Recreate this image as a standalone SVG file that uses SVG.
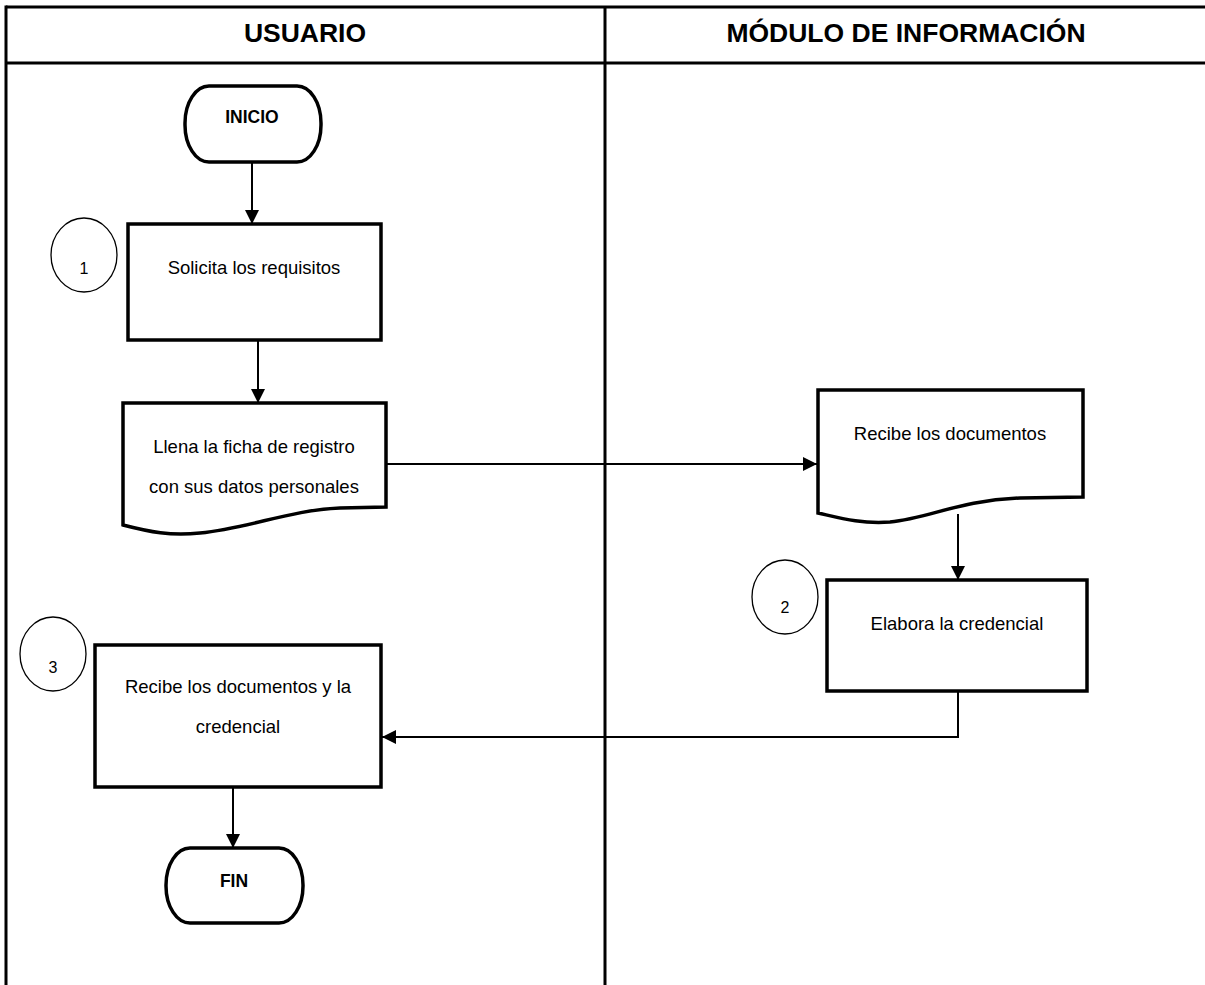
<svg xmlns="http://www.w3.org/2000/svg" width="1205" height="985" viewBox="0 0 1205 985">
<style>
.frame{stroke:#000;stroke-width:3;fill:none}
.box{fill:#fff;stroke:#000;stroke-width:3.5}
.term{fill:#fff;stroke:#000;stroke-width:3.5}
.circ{fill:#fff;stroke:#000;stroke-width:1.3}
.conn{fill:none;stroke:#000;stroke-width:2}
.hdr{font-family:"Liberation Sans",Arial,sans-serif;font-weight:bold;font-size:26.5px;text-anchor:middle;fill:#000}
.tb{font-family:"Liberation Sans",Arial,sans-serif;font-weight:bold;font-size:17.5px;text-anchor:middle;fill:#000}
.t{font-family:"Liberation Sans",Arial,sans-serif;font-size:18.5px;text-anchor:middle;fill:#000}
.n{font-family:"Liberation Sans",Arial,sans-serif;font-size:16px;text-anchor:middle;fill:#000}
</style>
<defs>
<marker id="arr" markerUnits="userSpaceOnUse" markerWidth="14" markerHeight="14" refX="14" refY="7" orient="auto">
<path d="M0,0 L14,7 L0,14 z" fill="#000"/>
</marker>
</defs>
<rect width="1205" height="985" fill="#fff"/>
<g id="lanes">
<line class="frame" x1="6" y1="7" x2="1205" y2="7"/>
<line class="frame" x1="6" y1="63" x2="1205" y2="63"/>
<line class="frame" x1="6" y1="5.5" x2="6" y2="985"/>
<line class="frame" x1="605" y1="7" x2="605" y2="985"/>
<text class="hdr" x="305" y="42">USUARIO</text>
<text class="hdr" x="906" y="42">MÓDULO DE INFORMACIÓN</text>
</g>
<g id="connectors">
<line class="conn" x1="252" y1="162" x2="252" y2="224" marker-end="url(#arr)"/>
<line class="conn" x1="258" y1="340" x2="258" y2="403" marker-end="url(#arr)"/>
<line class="conn" x1="386" y1="464" x2="817" y2="464" marker-end="url(#arr)"/>
<line class="conn" x1="958" y1="514" x2="958" y2="580" marker-end="url(#arr)"/>
<polyline class="conn" points="958,691 958,737 382,737" marker-end="url(#arr)"/>
<line class="conn" x1="233" y1="787" x2="233" y2="848" marker-end="url(#arr)"/>
</g>
<g id="inicio">
<rect class="term" x="185" y="86" width="136" height="76" rx="24" ry="37"/>
<text class="tb" x="252" y="123">INICIO</text>
</g>
<g id="n1">
<ellipse class="circ" cx="84" cy="255" rx="33" ry="37"/>
<text class="n" x="84" y="274">1</text>
</g>
<g id="solicita">
<rect class="box" x="128" y="224" width="253" height="116"/>
<text class="t" x="254" y="274">Solicita los requisitos</text>
</g>
<g id="llena">
<path class="box" d="M123,403 H386 V507 L340,508 C290,510 250,528 200,533 C170,536 150,532 123,525 Z"/>
<text class="t" x="254" y="453">Llena la ficha de registro</text>
<text class="t" x="254" y="493">con sus datos personales</text>
</g>
<g id="recibe">
<path class="box" d="M818,390 H1083 V497 L1020,498 C960,500 930,518 890,522 C860,524 840,518 818,513 Z"/>
<text class="t" x="950" y="440">Recibe los documentos</text>
</g>
<g id="n2">
<ellipse class="circ" cx="785" cy="597" rx="33" ry="37"/>
<text class="n" x="785" y="613">2</text>
</g>
<g id="elabora">
<rect class="box" x="827" y="580" width="260" height="111"/>
<text class="t" x="957" y="630">Elabora la credencial</text>
</g>
<g id="n3">
<ellipse class="circ" cx="53" cy="654" rx="33" ry="37"/>
<text class="n" x="53" y="673">3</text>
</g>
<g id="recibe-cred">
<rect class="box" x="95" y="645" width="286" height="142"/>
<text class="t" x="238" y="693">Recibe los documentos y la</text>
<text class="t" x="238" y="733">credencial</text>
</g>
<g id="fin">
<rect class="term" x="166" y="848" width="137" height="75" rx="24" ry="37"/>
<text class="tb" x="234" y="887">FIN</text>
</g>
</svg>
